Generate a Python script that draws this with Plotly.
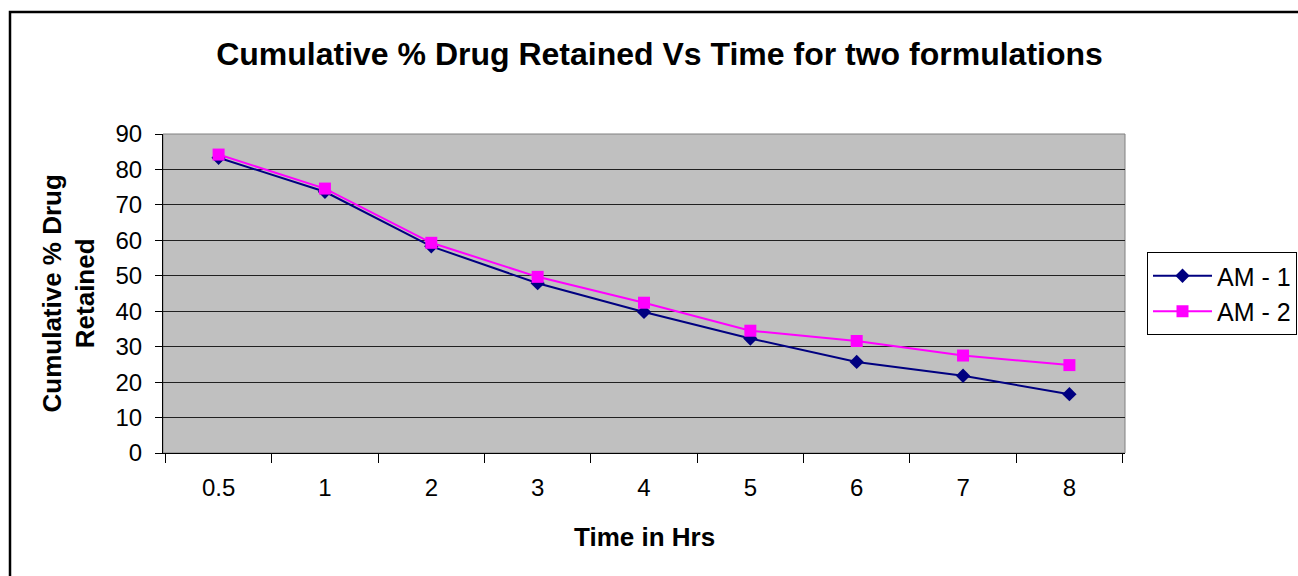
import plotly.graph_objects as go

time_labels = ["0.5", "1", "2", "3", "4", "5", "6", "7", "8"]
am1 = [83.3, 73.7, 58.3, 47.9, 39.8, 32.3, 25.7, 21.8, 16.6]
am2 = [84.2, 74.6, 59.3, 49.7, 42.4, 34.5, 31.6, 27.5, 24.8]

FONT = "Arial, Liberation Sans, sans-serif"

fig = go.Figure()
fig.add_trace(go.Scatter(
    x=time_labels, y=am1, name="AM - 1", mode="lines+markers",
    line=dict(color="#000080", width=2),
    marker=dict(symbol="diamond", size=11, color="#000080"),
))
fig.add_trace(go.Scatter(
    x=time_labels, y=am2, name="AM - 2", mode="lines+markers",
    line=dict(color="#FF00FF", width=2),
    marker=dict(symbol="square", size=12, color="#FF00FF"),
))

W, H = 1298, 576
L, R, T, B = 163, 173, 134, 123
pw, ph = W - L - R, H - T - B

def px_x(p):
    return (p - L) / pw

def px_y(p):
    return (H - B - p) / ph

fig.update_layout(
    width=W, height=H,
    margin=dict(l=L, r=R, t=T, b=B, pad=0, autoexpand=False),
    paper_bgcolor="white",
    plot_bgcolor="#C0C0C0",
    font=dict(family=FONT, color="black", size=24),
    showlegend=True,
    title=dict(
        text="<b>Cumulative % Drug Retained Vs Time for two formulations</b>",
        font=dict(size=32, family=FONT, color="black"),
        xref="container", x=659.5 / W, xanchor="center",
        yref="container", y=1 - 54 / H, yanchor="middle",
    ),
    legend=dict(
        xref="container", yref="container",
        x=1147 / W, y=1 - 252 / H, xanchor="left", yanchor="top",
        font=dict(size=25, family=FONT, color="black"),
        bordercolor="black", borderwidth=1, bgcolor="white",
        itemwidth=59, entrywidth=170,
    ),
    xaxis=dict(
        type="category",
        tickson="boundaries",
        ticks="outside", ticklen=9, tickcolor="black", tickwidth=1,
        showline=True, linecolor="black", linewidth=1,
        showgrid=False, zeroline=False,
        tickfont=dict(size=24, family=FONT, color="black"),
        ticklabelstandoff=13,
        fixedrange=True,
    ),
    yaxis=dict(
        range=[0, 90], dtick=10, tick0=0,
        ticks="outside", ticklen=7, tickcolor="black", tickwidth=1,
        showline=True, linecolor="black", linewidth=1,
        showgrid=True, gridcolor="#202020", gridwidth=1.3,
        zeroline=False,
        tickfont=dict(size=24, family=FONT, color="black"),
        ticklabelstandoff=8,
        fixedrange=True,
    ),
    annotations=[
        dict(text="<b>Time in Hrs</b>", xref="paper", yref="paper",
             x=0.5, y=0, xanchor="center", yanchor="middle", yshift=-84,
             showarrow=False, font=dict(size=26, family=FONT, color="black")),
        dict(text="<b>Cumulative % Drug<br>Retained</b>", xref="paper", yref="paper",
             x=0, y=0.5, xanchor="center", yanchor="middle", xshift=-95,
             textangle=-90, showarrow=False,
             font=dict(size=26, family=FONT, color="black")),
        dict(text="<b>g</b>", xref="paper", yref="paper",
             x=px_x(667), y=px_y(0), xanchor="center", yanchor="bottom", yshift=-2,
             showarrow=False, font=dict(size=30, family=FONT, color="black")),
    ],
    shapes=[
        dict(type="rect", xref="paper", yref="paper", x0=0, x1=1, y0=0, y1=1,
             line=dict(color="#808080", width=1), layer="below"),
        dict(type="rect", xref="paper", yref="paper",
             x0=px_x(10), x1=px_x(1330), y0=px_y(600), y1=px_y(12),
             line=dict(color="black", width=2.5)),
    ],
)

fig.write_html("out.html")
